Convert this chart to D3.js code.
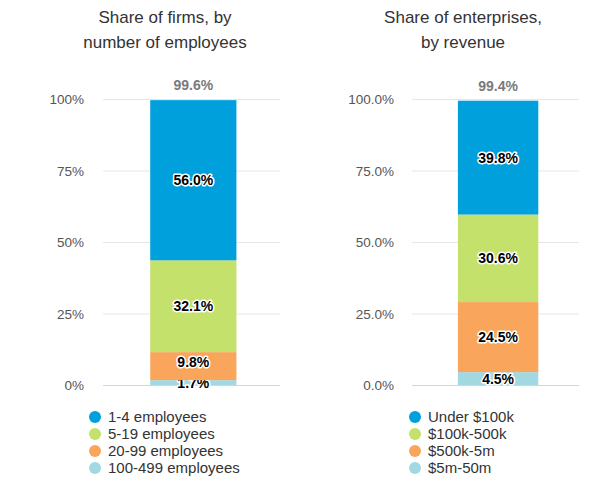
<!DOCTYPE html>
<html>
<head>
<meta charset="utf-8">
<script src="https://cdn.jsdelivr.net/npm/d3@7"></script>
<style>
  body { margin: 0; background: #fff; }
  svg { font-family: "Liberation Sans", Arial, sans-serif; }
</style>
</head>
<body>
<svg id="chart" width="600" height="494"></svg>
<script>
// data
var firmsCategories = ['1-4 employees', '5-19 employees', '20-99 employees', '100-499 employees'];
var firmsValues = [56.0, 32.1, 9.8, 1.7];
var firmsTicks = ['0%', '25%', '50%', '75%', '100%'];

var revenueCategories = ['Under $100k', '$100k-500k', '$500k-5m', '$5m-50m'];
var revenueValues = [39.8, 30.6, 24.5, 4.5];
var revenueTicks = ['0.0%', '25.0%', '50.0%', '75.0%', '100.0%'];

var tickValues = [0, 25, 50, 75, 100];
var colors = ['#00a0dc', '#c4e16b', '#f9a65c', '#a2d8e2'];

var svg = d3.select('#chart');

// layout per panel
var panels = [
  {title: ['Share of firms, by', 'number of employees'], titleX: 165,
   cats: firmsCategories, vals: firmsValues, ticks: firmsTicks,
   x0: 103, x1: 280, barPad: 0.345, align: 0.52, tickX: 84, legendX: 95},
  {title: ['Share of enterprises,', 'by revenue'], titleX: 463,
   cats: revenueCategories, vals: revenueValues, ticks: revenueTicks,
   x0: 412, x1: 579, barPad: 0.35, align: 0.53, tickX: 394, legendX: 415}
];

var y = d3.scaleLinear().domain([0, 100]).range([385, 99]);

panels.forEach(function(p) {
  var g = svg.append('g');

  g.selectAll('text.title')
    .data(p.title)
    .enter().append('text')
    .attr('class', 'title')
    .attr('x', p.titleX)
    .attr('y', (d, i) => 23 + i * 25)
    .attr('text-anchor', 'middle')
    .style('font-size', '17px')
    .style('fill', '#333')
    .text((d) => d);

  // gridlines
  g.selectAll('line.grid')
    .data(tickValues)
    .enter().append('line')
    .attr('x1', p.x0).attr('x2', p.x1)
    .attr('y1', (d) => y(d) + 0.5).attr('y2', (d) => y(d) + 0.5)
    .style('stroke', (d) => d === 0 ? '#ccd6eb' : '#e6e6e6')
    .style('stroke-width', 1);

  // y axis labels
  var yAxis = d3.axisLeft(y)
    .tickValues(tickValues)
    .tickSize(0)
    .tickPadding(0)
    .tickFormat((d, i) => p.ticks[i]);
  var ax = g.append('g')
    .attr('transform', 'translate(' + p.tickX + ',0)')
    .call(yAxis);
  ax.select('.domain').remove();
  ax.selectAll('text')
    .style('font-size', '13.5px')
    .style('fill', '#555')
    .style('font-family', '"Liberation Sans", Arial, sans-serif')
    .attr('dy', '0.35em');

  var x = d3.scaleBand().domain(['all']).range([p.x0, p.x1]).padding(p.barPad).align(p.align);

  // stack from bottom: last category sits at 0
  var rows = [{}];
  p.cats.forEach((c, i) => rows[0][c] = p.vals[i]);
  var stack = d3.stack().keys(p.cats.slice().reverse())(rows);

  // label positions, pushed up when they would collide with the one below
  var prev = Infinity;
  stack.forEach(function(d) {
    var cy = (y(d[0][0]) + y(d[0][1])) / 2;
    cy = Math.min(cy, prev - 21);
    d.labelY = cy;
    prev = cy;
  });

  var segs = g.selectAll('g.seg')
    .data(stack)
    .enter().append('g');

  segs.append('rect')
    .attr('x', x('all'))
    .attr('width', x.bandwidth())
    .attr('y', (d) => y(d[0][1]))
    .attr('height', (d) => y(d[0][0]) - y(d[0][1]))
    .style('fill', (d) => colors[p.cats.indexOf(d.key)]);

  // value labels with halo
  segs.append('text')
    .attr('x', x('all') + x.bandwidth() / 2)
    .attr('y', (d) => d.labelY)
    .attr('dy', '0.36em')
    .attr('text-anchor', 'middle')
    .style('font-size', '14px')
    .style('font-weight', 'bold')
    .style('fill', '#000')
    .style('stroke', '#fff')
    .style('stroke-width', 3)
    .style('stroke-linejoin', 'round')
    .style('paint-order', 'stroke')
    .text((d) => d3.format('.1f')(d[0][1] - d[0][0]) + '%');

  var total = d3.sum(p.vals);
  g.append('text')
    .attr('x', x('all') + x.bandwidth() / 2)
    .attr('y', y(total) - 10)
    .attr('text-anchor', 'middle')
    .style('font-size', '14px')
    .style('font-weight', 'bold')
    .style('fill', '#7a7a7a')
    .text(d3.format('.1f')(total) + '%');

  // legend
  var leg = g.selectAll('g.leg')
    .data(p.cats)
    .enter().append('g')
    .attr('transform', (d, i) => 'translate(' + p.legendX + ',' + (417 + i * 17) + ')');
  leg.append('circle')
    .attr('r', 6)
    .style('fill', (d, i) => colors[i]);
  leg.append('text')
    .attr('x', 13)
    .attr('dy', '0.36em')
    .style('font-size', '15px')
    .style('fill', '#333')
    .text((d) => d);
});
</script>
</body>
</html>
